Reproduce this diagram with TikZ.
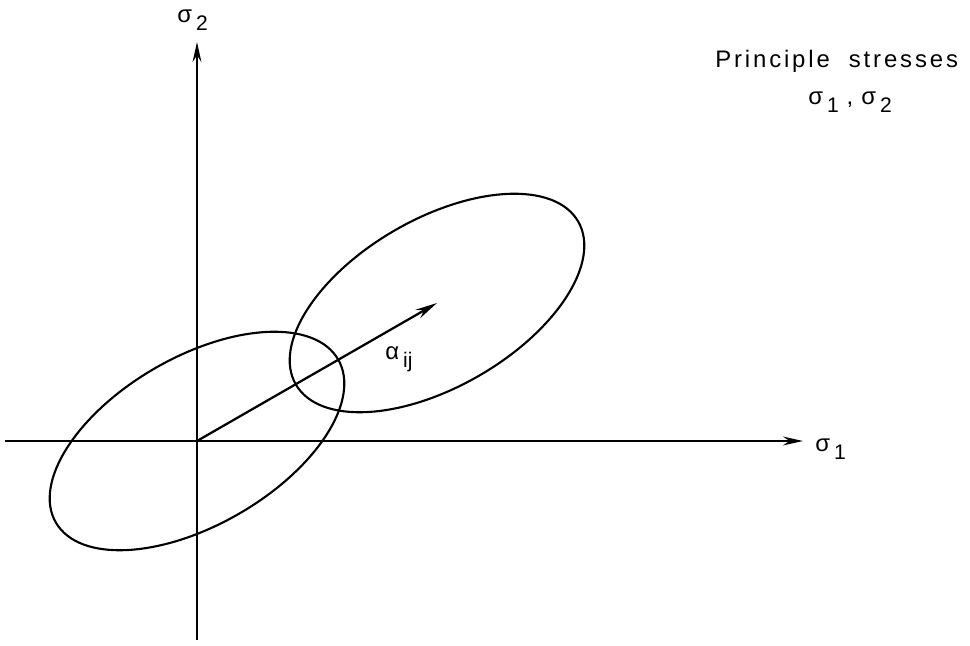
\documentclass[tikz,border=0pt]{standalone}
\usepackage{fontspec}
\setmainfont{Liberation Sans}
\usepackage{tikz}
\usetikzlibrary{arrows.meta,positioning,calc}
\newcommand{\low}[1]{\raisebox{-0.6ex}{\fontsize{15}{17}\selectfont #1}}
\tikzset{
  axisline/.style={line width=1.6pt, -{Stealth[length=5mm, width=2.2mm]}},
  ellipseline/.style={line width=1.5pt},
  lbl/.style={font=\fontsize{17}{20}\selectfont, inner sep=0pt, anchor=base west}
}

\begin{document}
\begin{tikzpicture}
    \useasboundingbox (-4.925,-5.125) rectangle (19.325,11.025);

    % Origin and centre of the shifted ellipse
    \coordinate (O) at (0,0);
    \coordinate (C2) at (6.0,3.45);
    \coordinate (xstart) at (-4.8,0);
    \coordinate (xend) at (15.15,0);
    \coordinate (ystart) at (0,-4.975);
    \coordinate (yend) at (0,9.975);

    % Axes
    \draw[axisline] (xstart) -- (xend);
    \draw[axisline] (ystart) -- (yend);
    \node[lbl] (s1) at (15.45,-0.275) {σ\,\low{1}};
    \node[lbl] (s2) at (-0.5,10.45) {σ\,\low{2}};

    % Ellipses
    \draw[ellipseline, rotate around={30:(O)}] (O) ellipse (4.075 and 2.1);
    \draw[ellipseline, rotate around={30:(C2)}] (C2) ellipse (4.075 and 2.1);

    % Shift vector
    \draw[line width=1.6pt, -{Stealth[length=5.5mm, width=2.4mm]}] (O) -- (C2);
    \node[lbl] (alpha) at (4.7,2.025) {α\,\low{ij}};

    % Legend
    \node[lbl] (legend) at (12.95,9.325) {\addfontfeature{LetterSpace=12}Principle\hspace{0.4em} stresses};
    \node[lbl] (pairs) at (15.275,8.4) {σ\,\low{1}\,\,,\,\,σ\,\low{2}};
\end{tikzpicture}
\end{document}
